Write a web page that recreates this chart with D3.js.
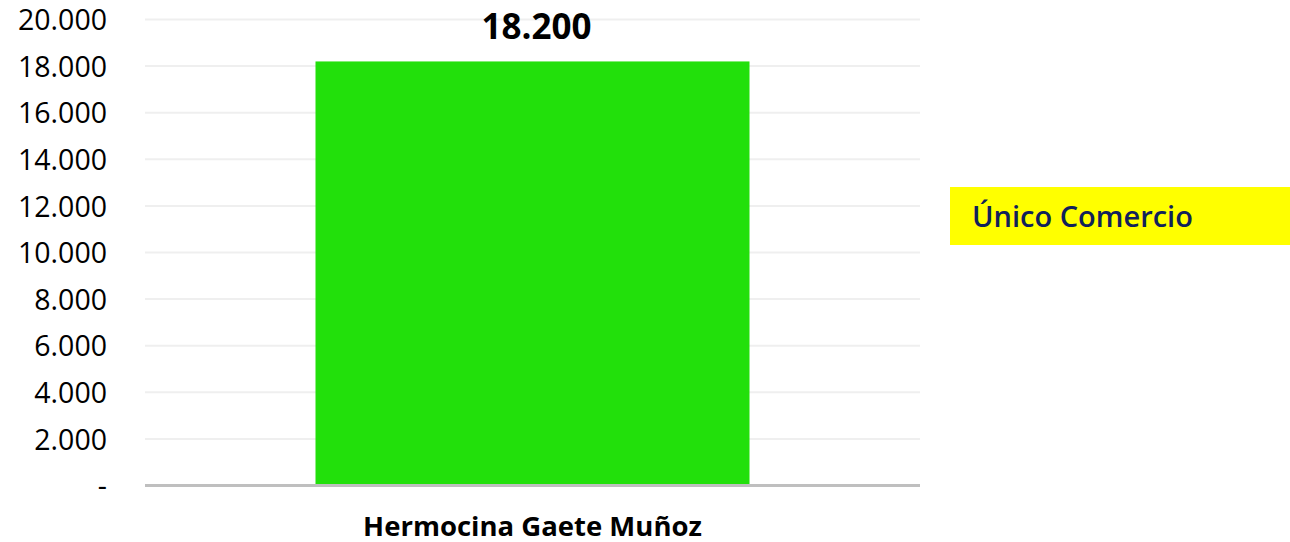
<!DOCTYPE html>
<html><head><meta charset="utf-8">
<script src="https://cdn.jsdelivr.net/npm/d3@7"></script>
<style>body{margin:0;background:#fff;}svg{display:block;}</style>
</head><body>
<svg id="c" width="1290" height="542"></svg>
<script>
const categories = ["Hermocina Gaete Muñoz"];
const values = [18200];
const tickValues = [0, 2000, 4000, 6000, 8000, 10000, 12000, 14000, 16000, 18000, 20000];
const tickLabels = ["-", "2.000", "4.000", "6.000", "8.000", "10.000", "12.000", "14.000", "16.000", "18.000", "20.000"];
const valueLabels = ["18.200"];
const noteText = "Único Comercio";

(function () {
const svg = d3.select("#c");
const mLeft = 145, mRight = 920, mTop = 19.5, mBottom = 485.5;
const font = "'Open Sans', 'Noto Sans', sans-serif";

const y = d3.scaleLinear().domain([0, 20000]).range([mBottom, mTop]);
const x = d3.scaleBand().domain(categories).range([mLeft, mRight]).paddingInner(0.44).paddingOuter(0.22);

// gridlines
svg.append("g").selectAll("line").data(tickValues.filter(d => d > 0)).join("line")
  .attr("x1", mLeft).attr("x2", mRight)
  .attr("y1", d => y(d)).attr("y2", d => y(d))
  .attr("stroke", "#efefef").attr("stroke-width", 2);

// y axis labels
const yAxis = d3.axisLeft(y).tickValues(tickValues).tickSize(0).tickPadding(0)
  .tickFormat((d, i) => tickLabels[i]);
const ya = svg.append("g").attr("transform", "translate(107,0)").call(yAxis);
ya.select(".domain").remove();
ya.selectAll("text").attr("font-family", font).attr("font-size", 28.5).attr("fill", "#000").attr("dy", "0.36em");

// bars
svg.append("g").selectAll("rect").data(values).join("rect")
  .attr("x", (d, i) => x(categories[i]))
  .attr("width", x.bandwidth())
  .attr("y", d => y(d))
  .attr("height", d => y(0) - y(d))
  .attr("fill", "#22e00b");

// baseline
svg.append("line").attr("x1", mLeft).attr("x2", mRight).attr("y1", mBottom).attr("y2", mBottom)
  .attr("stroke", "#bfbfbf").attr("stroke-width", 3);

// value labels
svg.append("g").selectAll("text").data(values).join("text")
  .attr("x", (d, i) => x(categories[i]) + x.bandwidth() / 2 + 4)
  .attr("y", d => y(d) - 22)
  .attr("text-anchor", "middle")
  .attr("font-family", font).attr("font-weight", "bold").attr("font-size", 35)
  .attr("fill", "#000")
  .text((d, i) => valueLabels[i]);

// x axis labels
const xAxis = d3.axisBottom(x).tickSize(0).tickPadding(0);
const xa = svg.append("g").attr("transform", `translate(0,${mBottom})`).call(xAxis);
xa.select(".domain").remove();
xa.selectAll("text").attr("font-family", font).attr("font-weight", "bold").attr("font-size", 27.5)
  .attr("fill", "#000").attr("dy", "0").attr("y", 50);

// note box
svg.append("rect").attr("x", 950).attr("y", 187).attr("width", 340).attr("height", 58).attr("fill", "#ffff00");
svg.append("text").attr("x", 972).attr("y", 227)
  .attr("font-family", font).attr("font-weight", 600).attr("font-size", 29)
  .attr("fill", "#10215a").text(noteText);
})();
</script>
</body></html>
